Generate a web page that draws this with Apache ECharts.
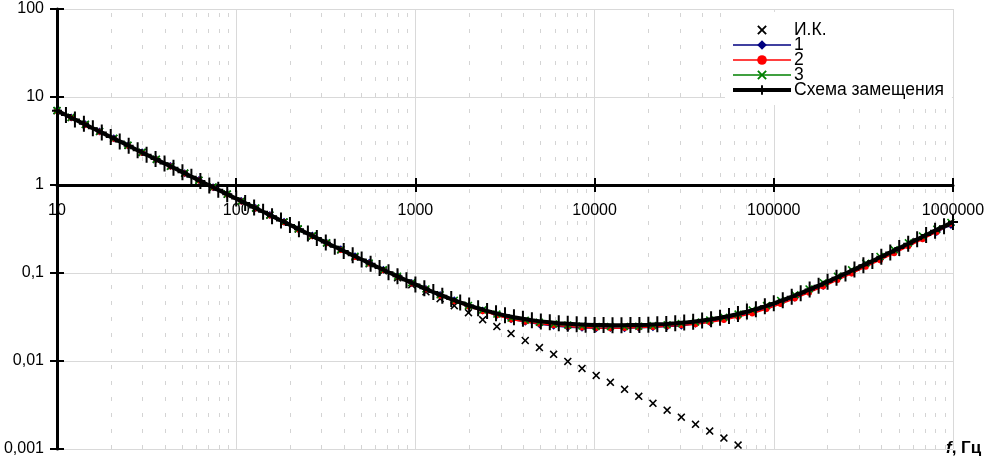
<!DOCTYPE html>
<html>
<head>
<meta charset="utf-8">
<script src="https://cdn.jsdelivr.net/npm/echarts@6/dist/echarts.min.js"></script>
<style>
  html, body { margin: 0; padding: 0; background: #fff; }
  #chart { width: 989px; height: 460px; }
</style>
</head>
<body>
<div id="chart"></div>
<script>
  // частоты, Гц
  const freqMeas = [10, 12, 14.4, 17.28, 20.74, 24.88, 29.86, 35.83, 43, 51.6, 61.92, 74.3, 89.16, 107, 128.4, 154.1, 184.9, 221.9, 266.2, 319.5,
    383.4, 460.1, 552.1, 662.5, 795, 954, 1145, 1374, 1648, 1978, 2374, 2849, 3418, 4102, 4922, 5907, 7088, 8506, 10207, 12248,
    14698, 17637, 21165, 25398, 30477, 36573, 43887, 52665, 63198, 75837, 91004, 109205, 131046, 157255, 188706, 226448, 271737, 326085, 391302, 469562,
    563475, 676170, 811404, 973685]
  const freqScheme = [10, 11.22, 12.59, 14.13, 15.85, 17.78, 19.95, 22.39, 25.12, 28.18, 31.62, 35.48, 39.81, 44.67, 50.12, 56.23, 63.1, 70.79, 79.43, 89.13,
    100, 112.2, 125.9, 141.3, 158.5, 177.8, 199.5, 223.9, 251.2, 281.8, 316.2, 354.8, 398.1, 446.7, 501.2, 562.3, 631, 707.9, 794.3, 891.3,
    1000, 1122, 1259, 1413, 1585, 1778, 1995, 2239, 2512, 2818, 3162, 3548, 3981, 4467, 5012, 5623, 6310, 7079, 7943, 8913,
    10000, 11220, 12589, 14125, 15849, 17783, 19953, 22387, 25119, 28184, 31623, 35481, 39811, 44668, 50119, 56234, 63096, 70795, 79433, 89125,
    100000, 112202, 125893, 141254, 158489, 177828, 199526, 223872, 251189, 281838, 316228, 354813, 398107, 446684, 501187, 562341, 630957, 707946, 794328, 891251,
    1000000]

  // И.К.
  const zIK = [7, 5.833, 4.861, 4.051, 3.376, 2.813, 2.344, 1.954, 1.628, 1.357, 1.131, 0.942, 0.785, 0.654, 0.545, 0.454, 0.379, 0.316, 0.263, 0.219,
    0.183, 0.152, 0.127, 0.106, 0.0881, 0.0734, 0.0611, 0.051, 0.0425, 0.0354, 0.0295, 0.0246, 0.0205, 0.0171, 0.0142, 0.0119, 0.00988, 0.00823, 0.00686, 0.00572,
    0.00476, 0.00397, 0.00331, 0.00276, 0.0023, 0.00191, 0.0016, 0.00133, 0.00111]
  const z1 = [7.08, 5.86, 4.89, 4.06, 3.39, 2.82, 2.36, 1.96, 1.64, 1.36, 1.14, 0.944, 0.79, 0.656, 0.549, 0.456, 0.382, 0.317, 0.266, 0.221,
    0.186, 0.155, 0.1305, 0.109, 0.0922, 0.0772, 0.066, 0.0561, 0.0489, 0.0423, 0.0376, 0.0334, 0.0298, 0.0279, 0.0262, 0.0251, 0.0242, 0.0238, 0.0236, 0.0237,
    0.0235, 0.0239, 0.0242, 0.0247, 0.0252, 0.0265, 0.0278, 0.03, 0.0322, 0.036, 0.0398, 0.0461, 0.0522, 0.0622, 0.071, 0.0862, 0.101, 0.1225, 0.142, 0.1735,
    0.204, 0.248, 0.292, 0.352]
  const z2 = [6.95, 5.8, 4.83, 4.03, 3.36, 2.8, 2.33, 1.945, 1.62, 1.35, 1.125, 0.937, 0.781, 0.651, 0.542, 0.451, 0.377, 0.313, 0.261, 0.218,
    0.182, 0.152, 0.128, 0.1075, 0.0905, 0.0762, 0.0648, 0.0553, 0.0478, 0.0417, 0.0368, 0.0331, 0.0296, 0.0279, 0.0265, 0.0255, 0.0246, 0.024, 0.0237, 0.0236,
    0.0237, 0.024, 0.0244, 0.0248, 0.0254, 0.0262, 0.0276, 0.0293, 0.0318, 0.0347, 0.039, 0.0443, 0.0513, 0.0598, 0.0702, 0.083, 0.0985, 0.1178, 0.14, 0.1675,
    0.201, 0.242, 0.293, 0.362]
  const z3 = [7.03, 5.87, 4.89, 4.07, 3.39, 2.83, 2.36, 1.965, 1.635, 1.365, 1.136, 0.948, 0.789, 0.658, 0.548, 0.457, 0.381, 0.318, 0.265, 0.221,
    0.1855, 0.1552, 0.1298, 0.1092, 0.0921, 0.0776, 0.066, 0.0565, 0.049, 0.0428, 0.038, 0.0342, 0.0308, 0.0291, 0.0275, 0.0264, 0.0256, 0.025, 0.0247, 0.0246,
    0.0247, 0.0249, 0.0253, 0.0258, 0.0266, 0.0277, 0.0292, 0.0314, 0.0342, 0.0379, 0.0427, 0.0488, 0.0565, 0.066, 0.0777, 0.0917, 0.1088, 0.1293, 0.154, 0.1838,
    0.22, 0.263, 0.315, 0.376]
  // Схема замещения
  const zScheme = [7, 6.24, 5.56, 4.95, 4.42, 3.94, 3.51, 3.13, 2.79, 2.48, 2.21, 1.97, 1.76, 1.57, 1.4, 1.245, 1.11, 0.989, 0.881, 0.785,
    0.7005, 0.6245, 0.5566, 0.4957, 0.4427, 0.3948, 0.3519, 0.314, 0.2802, 0.2493, 0.2225, 0.1986, 0.1778, 0.1591, 0.1423, 0.1271, 0.1139, 0.1021, 0.0917, 0.0825,
    0.0741, 0.067, 0.0607, 0.0552, 0.0505, 0.0463, 0.0427, 0.0397, 0.0371, 0.0348, 0.033, 0.0314, 0.0302, 0.0291, 0.0282, 0.0275, 0.0269, 0.0265, 0.0261, 0.0259,
    0.0257, 0.0256, 0.0255, 0.0255, 0.0256, 0.0257, 0.0258, 0.0261, 0.0264, 0.0268, 0.0273, 0.028, 0.0288, 0.0298, 0.031, 0.0325, 0.0342, 0.0364, 0.0388, 0.0418,
    0.0452, 0.0491, 0.0537, 0.059, 0.065, 0.0718, 0.0797, 0.0885, 0.0986, 0.1099, 0.1227, 0.137, 0.1532, 0.1715, 0.1921, 0.2151, 0.2411, 0.2701, 0.3028, 0.3396,
    0.3808]

  const yTickLabels = ['0,001', '0,01', '0,1', '1', '10', '100']
  const xTickLabels = ['10', '100', '1000', '10000', '100000', '1000000']
  const minorGrid = [20, 30, 40, 50, 60, 70, 80, 90, 200, 300, 400, 500, 600, 700, 800, 900,
    2000, 3000, 4000, 5000, 6000, 7000, 8000, 9000, 20000, 30000, 40000, 50000, 60000, 70000, 80000, 90000,
    200000, 300000, 400000, 500000, 600000, 700000, 800000, 900000]

  const pairs = (xs, ys) => ys.map((y, i) => [xs[i], y])

  const FONT = 'Liberation Sans, Arial, sans-serif'
  const plusIcon = 'path://M4,0H6V16H4Z M0,7H10V9H0Z'
  const crossIcon = 'path://M0,1.4L1.4,0L5,3.6L8.6,0L10,1.4L6.4,5L10,8.6L8.6,10L5,6.4L1.4,10L0,8.6L3.6,5Z'

  const chart = echarts.init(document.getElementById('chart'))

  const xBase = {
    type: 'log', min: 10, max: 1000000, position: 'bottom', offset: -264,
    axisLine: { onZero: false, show: true, lineStyle: { color: '#000', width: 3 } },
  }
  const yBase = {
    type: 'log', min: 0.001, max: 100, position: 'left',
    axisLine: { onZero: false, show: true, lineStyle: { color: '#000', width: 3 } },
  }

  chart.setOption({
    animation: false,
    backgroundColor: '#fff',
    grid: { left: 57, right: 36, top: 9, bottom: 11 },
    xAxis: [
      Object.assign({}, xBase, {
        axisTick: { show: true, length: 7, lineStyle: { color: '#000', width: 2 } },
        axisLabel: {
          margin: 18, color: '#000', fontSize: 16, fontFamily: FONT,
          showMinLabel: true, showMaxLabel: true, hideOverlap: false,
          formatter: (v, i) => xTickLabels[i]
        },
        splitLine: { show: true, lineStyle: { color: '#d9d9d9', width: 1 } }
      }),
      Object.assign({}, xBase, {
        axisLine: { show: false, onZero: false },
        axisTick: { show: true, inside: true, length: 7, lineStyle: { color: '#000', width: 2 } },
        axisLabel: { show: false },
        splitLine: { show: false }
      })
    ],
    yAxis: [
      Object.assign({}, yBase, {
        axisTick: { show: true, length: 7, lineStyle: { color: '#000', width: 2 } },
        axisLabel: {
          margin: 13, color: '#000', fontSize: 16, fontFamily: FONT,
          showMinLabel: true, showMaxLabel: true,
          formatter: (v, i) => yTickLabels[i]
        },
        splitLine: { show: true, lineStyle: { color: '#d9d9d9', width: 1 } }
      }),
      Object.assign({}, yBase, {
        axisLine: { show: false, onZero: false },
        axisTick: { show: true, inside: true, length: 7, lineStyle: { color: '#000', width: 2 } },
        axisLabel: { show: false },
        splitLine: { show: false }
      })
    ],
    legend: {
      data: ['И.К.', '1', '2', '3', 'Схема замещения'],
      orient: 'vertical',
      left: 725,
      top: 12,
      padding: [9, 8, 6, 6],
      backgroundColor: '#fff',
      z: 10,
      itemWidth: 58,
      itemHeight: 12,
      itemGap: -3,
      lineStyle: { type: 'solid', width: 'inherit' },
      textStyle: { color: '#000', fontSize: 17.5, fontFamily: FONT, padding: [0, 0, 0, -2] }
    },
    graphic: [{
      type: 'text', left: 946, top: 440,
      style: {
        text: '{i|f}{b|, Гц}',
        rich: {
          i: { fontSize: 17, fontWeight: 'bold', fontStyle: 'italic', fontFamily: FONT, fill: '#000' },
          b: { fontSize: 17, fontWeight: 'bold', fontFamily: FONT, fill: '#000' }
        }
      }
    }],
    series: [
      {
        name: 'minor', type: 'line', data: [], silent: true, z: 1,
        markLine: {
          z: 1, silent: true, symbol: 'none', label: { show: false }, animation: false,
          lineStyle: { color: '#d4d4d4', width: 1, type: [4, 12] },
          data: minorGrid.map(v => ({ xAxis: v }))
        }
      },
      {
        name: 'И.К.', type: 'line', data: pairs(freqMeas, zIK), z: 3,
        symbol: crossIcon, symbolSize: 8,
        itemStyle: { color: '#000' },
        lineStyle: { opacity: 0, width: 0 }
      },
      {
        name: '1', type: 'line', data: pairs(freqMeas, z1), z: 3,
        symbol: 'diamond', symbolSize: 8,
        itemStyle: { color: '#000080' },
        lineStyle: { color: '#000080', width: 1.5, type: 'solid' }
      },
      {
        name: '2', type: 'line', data: pairs(freqMeas, z2), z: 3,
        symbol: 'circle', symbolSize: 6,
        itemStyle: { color: '#ff0000' },
        lineStyle: { color: '#ff0000', width: 1.5, type: 'solid' }
      },
      {
        name: '3', type: 'line', data: pairs(freqMeas, z3), z: 3,
        symbol: crossIcon, symbolSize: 8,
        itemStyle: { color: '#008000' },
        lineStyle: { color: '#008000', width: 1.5, type: 'solid' }
      },
      {
        name: 'Схема замещения', type: 'line', data: pairs(freqScheme, zScheme), z: 4,
        symbol: plusIcon, symbolSize: [10, 16],
        itemStyle: { color: '#000' },
        lineStyle: { color: '#000', width: 4, type: 'solid' }
      }
    ]
  })
</script>
</body>
</html>
